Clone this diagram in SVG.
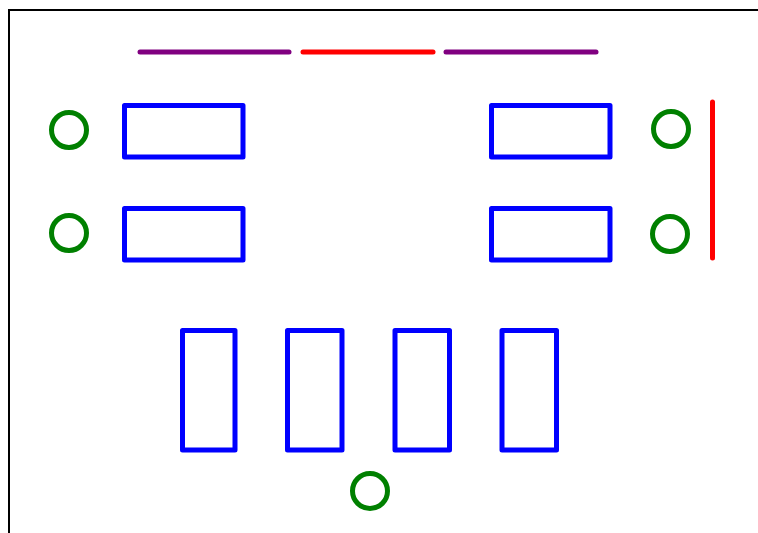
<svg xmlns="http://www.w3.org/2000/svg" width="758" height="533" viewBox="0 0 758 533">
<style>
.tbl{fill:none;stroke:#0000ff;stroke-width:5;stroke-linejoin:round}
.seat{fill:none;stroke:#008000;stroke-width:5}
.wall{stroke-width:5;stroke-linecap:round;fill:none}
</style>
<rect x="0" y="0" width="758" height="533" fill="#ffffff"/>
<rect x="9" y="10" width="800" height="600" fill="none" stroke="#000000" stroke-width="2"/>
<g id="walls">
<line class="wall" x1="140" y1="52" x2="289" y2="52" stroke="#800080"/>
<line class="wall" x1="303" y1="52" x2="433" y2="52" stroke="#ff0000"/>
<line class="wall" x1="446" y1="52" x2="596" y2="52" stroke="#800080"/>
<line class="wall" x1="712.5" y1="102" x2="712.5" y2="258" stroke="#ff0000"/>
</g>
<g id="table1"><rect class="tbl" x="124.5" y="105.5" width="118.5" height="51.5"/></g>
<g id="table2"><rect class="tbl" x="491.5" y="105.5" width="118.5" height="51.5"/></g>
<g id="table3"><rect class="tbl" x="124.5" y="208.5" width="118.5" height="51.5"/></g>
<g id="table4"><rect class="tbl" x="491.5" y="208.5" width="118.5" height="51.5"/></g>
<g id="table5"><rect class="tbl" x="182.5" y="330.5" width="52.5" height="119.5"/></g>
<g id="table6"><rect class="tbl" x="287.5" y="330.5" width="54.5" height="119.5"/></g>
<g id="table7"><rect class="tbl" x="395" y="330.5" width="54.5" height="119.5"/></g>
<g id="table8"><rect class="tbl" x="502" y="330.5" width="54.5" height="119.5"/></g>
<g id="seat1"><circle class="seat" cx="69" cy="130" r="17.5"/></g>
<g id="seat2"><circle class="seat" cx="69" cy="233" r="17.5"/></g>
<g id="seat3"><circle class="seat" cx="671" cy="129" r="17.5"/></g>
<g id="seat4"><circle class="seat" cx="670" cy="234" r="17.5"/></g>
<g id="seat5"><circle class="seat" cx="370" cy="491" r="17.5"/></g>
</svg>
